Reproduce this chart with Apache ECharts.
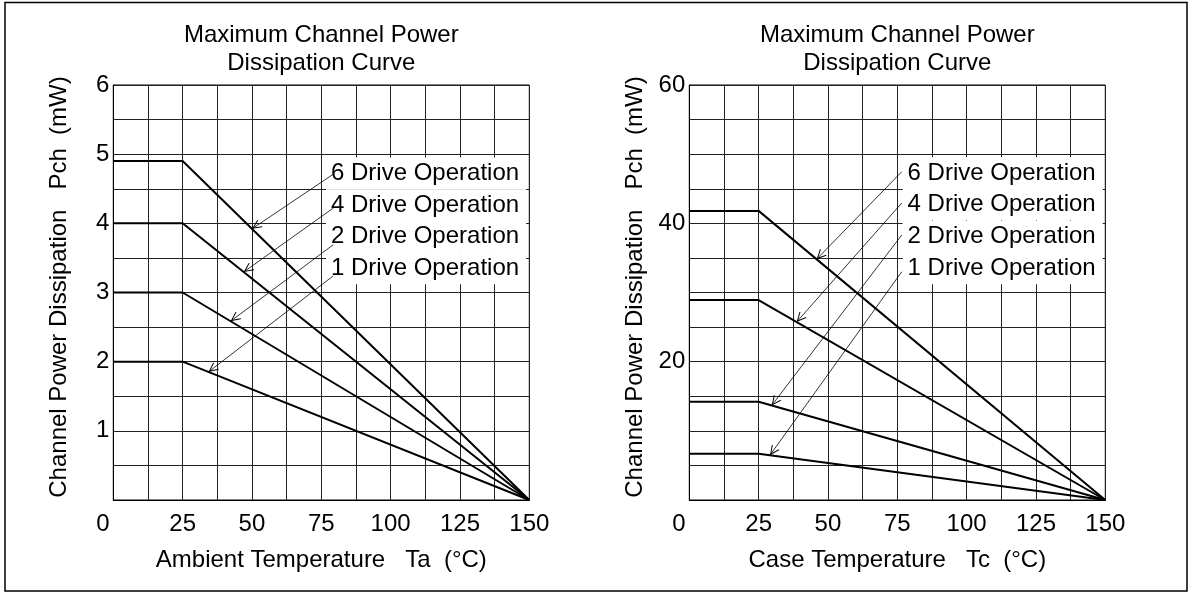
<!DOCTYPE html>
<html><head><meta charset="utf-8">
<script src="https://cdn.jsdelivr.net/npm/echarts@6/dist/echarts.min.js"></script>
<style>html,body{margin:0;padding:0;background:#fff}#c{width:1193px;height:592px}</style>
</head><body><div id="c"></div>
<script>
// ---- data ----
const temperature = [0, 25, 150];
const ambient6 = [4.9, 4.9, 0];
const ambient4 = [4.0, 4.0, 0];
const ambient2 = [3.0, 3.0, 0];
const ambient1 = [2.0, 2.0, 0];
const case6 = [41.8, 41.8, 0];
const case4 = [28.9, 28.9, 0];
const case2 = [14.2, 14.2, 0];
const case1 = [6.7, 6.7, 0];
const driveLabels = ['6 Drive Operation', '4 Drive Operation', '2 Drive Operation', '1 Drive Operation'];
const xTickLabels = ['0', '25', '50', '75', '100', '125', '150'];
const leftYTickLabels = ['1', '2', '3', '4', '5', '6'];
const rightYTickLabels = ['20', '40', '60'];
const chartTitle = 'Maximum Channel Power\nDissipation Curve';
const yName = 'Channel Power Dissipation   Pch  (mW)';
const leftXName = 'Ambient Temperature   Ta  (°C)';
const rightXName = 'Case Temperature   Tc  (°C)';
// annotation anchors (data units)
const leftLabelAt = [[76.7, 4.72], [76.7, 4.26], [76.7, 3.81], [76.7, 3.35]];
const leftArrowFrom = [[79.3, 4.71], [79.3, 4.22], [79.3, 3.69], [79.3, 3.24]];
const leftArrowTipTemp = [50, 47, 42.3, 34.3];
const rightLabelAt = [[76.9, 47.24], [76.9, 42.75], [76.9, 38.07], [76.9, 33.5]];
const rightArrowFrom = [[76.6, 47.46], [76.6, 42.94], [76.6, 38.31], [76.6, 33.0]];
const rightArrowTipTemp = [45.9, 38.7, 29.7, 29.1];

// ---- helpers ----
const FONT = 'Liberation Sans, Arial, Helvetica, sans-serif';
const FS = 24;
function onCurve(vals, t) {
  for (let i = 0; i < temperature.length - 1; i++) {
    const a = temperature[i], b = temperature[i + 1];
    if (t >= a && t <= b) return vals[i] + (vals[i + 1] - vals[i]) * (t - a) / (b - a);
  }
  return vals[vals.length - 1];
}
const chevron = 'path://M5 -10 L5.01 -10 L5 -10 Z M5 0 L10 9.4 L9.1 10 L5 2.3 L0.9 10 L0 9.4 Z';
const gridLine = { color: '#222', width: 1 };

function xAxisFor(gi, name) {
  return {
    type: 'value', gridIndex: gi, min: 0, max: 150, interval: 25,
    name: name, nameLocation: 'middle', nameGap: 48,
    nameTextStyle: { fontFamily: FONT, fontSize: FS, color: '#000' },
    axisLine: { show: true, lineStyle: { color: '#000', width: 1 } },
    axisTick: { show: false },
    minorTick: { show: false, splitNumber: 2 },
    splitLine: { show: true, lineStyle: gridLine },
    minorSplitLine: { show: true, lineStyle: gridLine },
    axisLabel: {
      margin: 12, fontFamily: FONT, fontSize: FS, color: '#000',
      showMinLabel: true, showMaxLabel: true,
      formatter: v => { const s = xTickLabels[Math.round(v / 25)]; return v === 0 ? '{z|' + s + '}' : s; },
      rich: { z: { fontFamily: FONT, fontSize: FS, color: '#000', padding: [0, 21, 0, 0] } }
    }
  };
}
function yAxisFor(gi, max, interval, minorSplit, ticks) {
  return {
    type: 'value', gridIndex: gi, min: 0, max: max, interval: interval,
    name: yName, nameLocation: 'middle', nameGap: 41.5, nameRotate: 90,
    nameTextStyle: { fontFamily: FONT, fontSize: FS, color: '#000', padding: [0, 0, 0, 11] },
    axisLine: { show: true, lineStyle: { color: '#000', width: 1 } },
    axisTick: { show: false },
    minorTick: { show: false, splitNumber: minorSplit },
    splitLine: { show: true, lineStyle: gridLine },
    minorSplitLine: { show: true, lineStyle: gridLine },
    axisLabel: {
      margin: 4, fontFamily: FONT, fontSize: FS, color: '#000',
      showMinLabel: true, showMaxLabel: true,
      formatter: v => v === 0 ? '' : ticks[Math.round(v / interval) - 1]
    }
  };
}
function curveSeries(gi, vals, from, tipT) {
  return {
    type: 'line', xAxisIndex: gi, yAxisIndex: gi, symbol: 'none', silent: true,
    data: temperature.map((t, i) => [t, vals[i]]),
    lineStyle: { color: '#000', width: 2 },
    itemStyle: { color: '#000' },
    markLine: {
      silent: true, animation: false,
      symbol: ['none', chevron], symbolSize: [9, 20],
      label: { show: false },
      lineStyle: { color: '#000', width: 0.8, type: 'solid' },
      itemStyle: { color: '#000' },
      data: [[{ coord: from }, { coord: [tipT, onCurve(vals, tipT)] }]]
    }
  };
}
function labelSeries(gi, anchors) {
  return {
    type: 'scatter', xAxisIndex: gi, yAxisIndex: gi, symbolSize: 0, silent: true,
    itemStyle: { opacity: 1, color: '#000' },
    data: anchors.map((p, i) => ({ value: p, name: driveLabels[i] })),
    label: {
      show: true, position: 'right', distance: 0, formatter: p => p.name,
      fontFamily: FONT, fontSize: FS, color: '#000', opacity: 1, lineHeight: 32,
      backgroundColor: '#fff', padding: [0, 7, 0, 5], verticalAlign: 'middle'
    }
  };
}

const leftSets = [ambient6, ambient4, ambient2, ambient1];
const rightSets = [case6, case4, case2, case1];
const series = [];
leftSets.forEach((v, i) => series.push(curveSeries(0, v, leftArrowFrom[i], leftArrowTipTemp[i])));
rightSets.forEach((v, i) => series.push(curveSeries(1, v, rightArrowFrom[i], rightArrowTipTemp[i])));
series.push(labelSeries(0, leftLabelAt));
series.push(labelSeries(1, rightLabelAt));

const titleStyle = { fontFamily: FONT, fontSize: FS, fontWeight: 'normal', color: '#000', lineHeight: 28 };
const option = {
  animation: false,
  backgroundColor: '#fff',
  title: [
    { text: chartTitle, left: 321.3, top: 21, textAlign: 'center', padding: 0, textStyle: titleStyle },
    { text: chartTitle, left: 897.3, top: 21, textAlign: 'center', padding: 0, textStyle: titleStyle }
  ],
  grid: [
    { left: 113.3, right: 663.7, top: 85, bottom: 92, show: true, borderColor: '#000', borderWidth: 1, backgroundColor: 'transparent' },
    { left: 689.3, right: 87.7, top: 85, bottom: 92, show: true, borderColor: '#000', borderWidth: 1, backgroundColor: 'transparent' }
  ],
  xAxis: [xAxisFor(0, leftXName), xAxisFor(1, rightXName)],
  yAxis: [yAxisFor(0, 6, 1, 2, leftYTickLabels), yAxisFor(1, 60, 20, 4, rightYTickLabels)],
  graphic: [{
    type: 'rect', silent: true, z: -1,
    shape: { x: 5, y: 2.5, width: 1182, height: 588.5 },
    style: { fill: 'none', stroke: '#000', lineWidth: 1.5 }
  }],
  series: series
};
const chart = echarts.init(document.getElementById('c'), null, { renderer: 'canvas' });
chart.setOption(option);
</script></body></html>
